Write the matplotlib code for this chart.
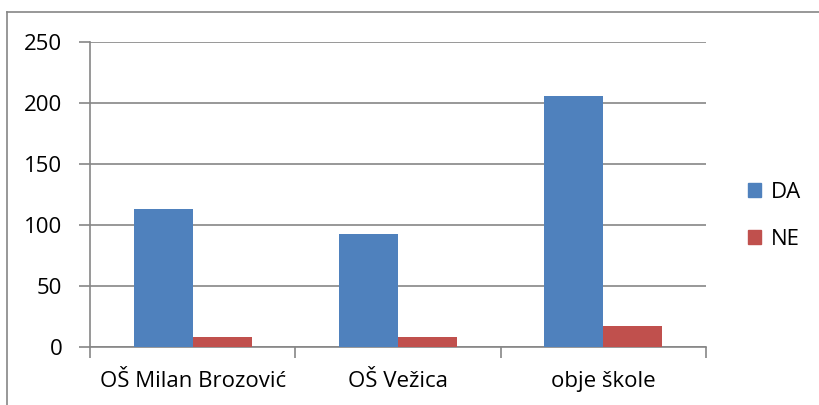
import matplotlib
matplotlib.use("Agg")
import matplotlib.pyplot as plt
import numpy as np
from matplotlib.patches import Rectangle
from matplotlib.lines import Line2D

categories = ["OŠ Milan Brozović", "OŠ Vežica", "obje škole"]
da_values = [113, 93, 206]
ne_values = [8, 8, 17]
series_names = ["DA", "NE"]
yticks = [0, 50, 100, 150, 200, 250]

plt.rcParams['font.family'] = ['Open Sans', 'DejaVu Sans']

fig = plt.figure(figsize=(8.2, 4.05), dpi=100)
ax = fig.add_axes([90/820, 1-347/405, 616/820, 305/405])

x = np.arange(len(categories))
w = 0.287
c_da = "#4F81BD"
c_ne = "#C0504D"
ax.bar(x - w/2, da_values, width=w, color=c_da, zorder=3)
ax.bar(x + w/2, ne_values, width=w, color=c_ne, zorder=3)

fs = 16
ax.set_xlim(-0.5, len(categories) - 0.5)
ax.set_ylim(0, 250)
ax.set_yticks(yticks)
ax.set_yticklabels([str(t) for t in yticks], fontsize=fs, color="black")
ax.yaxis.grid(True, color="#868686", linewidth=1.2, zorder=0)
ax.set_axisbelow(True)

# category labels
ax.set_xticks(x)
ax.set_xticklabels(categories, fontsize=fs, color="black")
ax.tick_params(axis='x', length=0, pad=17)
# boundary ticks
ax.set_xticks(np.arange(-0.5, len(categories)), minor=True)
ax.tick_params(axis='x', which='minor', length=8, color="#868686", width=1.2)
ax.tick_params(axis='y', length=8, color="#868686", width=1.2, pad=12)

for s in ['top', 'right']:
    ax.spines[s].set_visible(False)
for s in ['left', 'bottom']:
    ax.spines[s].set_color("#868686")
    ax.spines[s].set_linewidth(1.2)

handles = [Rectangle((0, 0), 1, 1, color=c_da), Rectangle((0, 0), 1, 1, color=c_ne)]
fig.legend(handles, series_names, loc='center left', bbox_to_anchor=(728/820, 1-216/405),
           frameon=False, fontsize=fs, handlelength=0.6, handleheight=0.6,
           handletextpad=0.45, labelspacing=1.15)

# outer chart border (top and left visible)
fig.add_artist(Line2D([7/820, 7/820], [0, 1-12/405], transform=fig.transFigure,
                      color="#868686", linewidth=1.2))
fig.add_artist(Line2D([7/820, 1], [1-12/405, 1-12/405], transform=fig.transFigure,
                      color="#868686", linewidth=1.2))

fig.savefig("out.png", dpi=100)
